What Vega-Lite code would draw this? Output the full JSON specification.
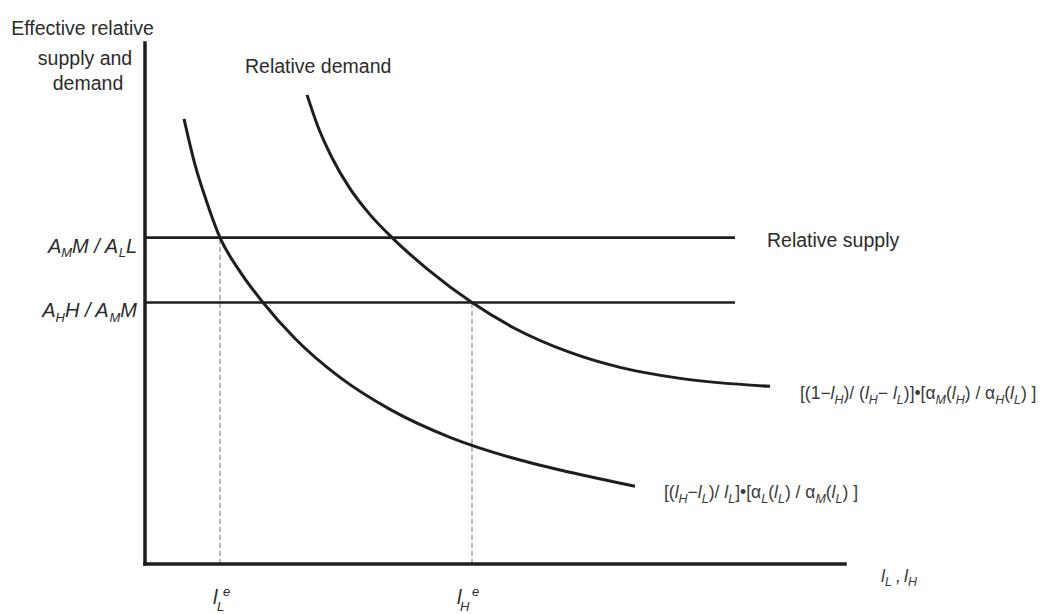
{
  "$schema": "https://vega.github.io/schema/vega-lite/v6.json",
  "width": 1040,
  "height": 614,
  "autosize": {"type": "fit", "contains": "padding"},
  "padding": 0,
  "background": "white",
  "config": {"view": {"stroke": null}},
  "datasets": {
    "rules": [
      {"part": "axis", "x": 0, "x2": 0, "y": 0, "y2": 52.2},
      {"part": "axis", "x": 0, "x2": 70, "y": 0, "y2": 0},
      {"part": "supply", "x": 0, "x2": 59, "y": 32.7, "y2": 32.7},
      {"part": "supply", "x": 0, "x2": 59, "y": 26.2, "y2": 26.2},
      {"part": "guide", "x": 7.5, "x2": 7.5, "y": 0, "y2": 32.7},
      {"part": "guide", "x": 32.7, "x2": 32.7, "y": 0, "y2": 26.2}
    ],
    "curves": [
      {"curve": "low", "x": 3.9, "y": 44.6},
      {"curve": "low", "x": 5.0, "y": 40.0},
      {"curve": "low", "x": 6.2, "y": 36.2},
      {"curve": "low", "x": 7.5, "y": 32.7},
      {"curve": "low", "x": 9.5, "y": 29.3},
      {"curve": "low", "x": 11.8, "y": 26.2},
      {"curve": "low", "x": 15.0, "y": 22.6},
      {"curve": "low", "x": 19.5, "y": 18.7},
      {"curve": "low", "x": 24.5, "y": 15.5},
      {"curve": "low", "x": 30.5, "y": 12.7},
      {"curve": "low", "x": 36.5, "y": 10.7},
      {"curve": "low", "x": 42.5, "y": 9.2},
      {"curve": "low", "x": 49.0, "y": 7.8},
      {"curve": "high", "x": 16.2, "y": 47.0},
      {"curve": "high", "x": 17.3, "y": 43.8},
      {"curve": "high", "x": 18.7, "y": 40.7},
      {"curve": "high", "x": 20.5, "y": 37.6},
      {"curve": "high", "x": 22.5, "y": 35.0},
      {"curve": "high", "x": 24.7, "y": 32.7},
      {"curve": "high", "x": 28.3, "y": 29.5},
      {"curve": "high", "x": 32.7, "y": 26.2},
      {"curve": "high", "x": 37.0, "y": 23.6},
      {"curve": "high", "x": 42.5, "y": 21.2},
      {"curve": "high", "x": 47.5, "y": 19.7},
      {"curve": "high", "x": 53.5, "y": 18.6},
      {"curve": "high", "x": 62.5, "y": 17.8}
    ],
    "labels": [
      {"role": "heading", "text": "Effective relative", "x": -6.25, "y": 53.0},
      {"role": "heading", "text": "supply and", "x": -6.0, "y": 50.0},
      {"role": "heading", "text": "demand", "x": -5.7, "y": 47.5},
      {"role": "note", "text": "Relative demand", "x": 10.0, "y": 49.2},
      {"role": "note", "text": "Relative supply", "x": 62.2, "y": 31.8},

      {"role": "sym", "text": "A", "x": -9.7, "y": 31.2},
      {"role": "symsub", "text": "M", "x": -8.37, "y": 30.75},
      {"role": "sym", "text": "M / A", "x": -7.29, "y": 31.2},
      {"role": "symsub", "text": "L", "x": -2.62, "y": 30.75},
      {"role": "sym", "text": "L", "x": -1.9, "y": 31.2},

      {"role": "sym", "text": "A", "x": -10.27, "y": 24.7},
      {"role": "symsub", "text": "H", "x": -8.94, "y": 24.25},
      {"role": "sym", "text": "H / A", "x": -8.0, "y": 24.7},
      {"role": "symsub", "text": "M", "x": -3.55, "y": 24.25},
      {"role": "sym", "text": "M", "x": -2.47, "y": 24.7},

      {"role": "sym", "text": "l", "x": 6.8, "y": -4.0},
      {"role": "symsub", "text": "L", "x": 7.2, "y": -4.7},
      {"role": "symsub", "text": "e", "x": 7.8, "y": -3.2},
      {"role": "sym", "text": "l", "x": 31.2, "y": -4.0},
      {"role": "symsub", "text": "H", "x": 31.5, "y": -4.7},
      {"role": "symsub", "text": "e", "x": 32.7, "y": -3.2},

      {"role": "exprvar", "text": "l", "x": 73.6, "y": -1.8},
      {"role": "exprsub", "text": "L", "x": 74.0, "y": -2.2},
      {"role": "exprvar", "text": ",", "x": 75.1, "y": -1.8},
      {"role": "exprvar", "text": "l", "x": 75.9, "y": -1.8},
      {"role": "exprsub", "text": "H", "x": 76.3, "y": -2.2},

      {"role": "expr", "text": "[(1−", "x": 65.5, "y": 16.5},
      {"role": "exprvar", "text": "l", "x": 68.56, "y": 16.5},
      {"role": "exprsub", "text": "H", "x": 68.95, "y": 16.0},
      {"role": "expr", "text": ")/ (", "x": 69.85, "y": 16.5},
      {"role": "exprvar", "text": "l", "x": 71.99, "y": 16.5},
      {"role": "exprsub", "text": "H", "x": 72.38, "y": 16.0},
      {"role": "expr", "text": "− ", "x": 73.28, "y": 16.5},
      {"role": "exprvar", "text": "l", "x": 74.79, "y": 16.5},
      {"role": "exprsub", "text": "L", "x": 75.18, "y": 16.0},
      {"role": "expr", "text": ")]•[α", "x": 75.88, "y": 16.5},
      {"role": "exprsub", "text": "M", "x": 79.06, "y": 16.0},
      {"role": "expr", "text": "(", "x": 80.10, "y": 16.5},
      {"role": "exprvar", "text": "l", "x": 80.68, "y": 16.5},
      {"role": "exprsub", "text": "H", "x": 81.07, "y": 16.0},
      {"role": "expr", "text": ") / α", "x": 81.97, "y": 16.5},
      {"role": "exprsub", "text": "H", "x": 85.02, "y": 16.0},
      {"role": "expr", "text": "(", "x": 85.92, "y": 16.5},
      {"role": "exprvar", "text": "l", "x": 86.50, "y": 16.5},
      {"role": "exprsub", "text": "L", "x": 86.89, "y": 16.0},
      {"role": "expr", "text": ") ]", "x": 87.59, "y": 16.5},

      {"role": "expr", "text": "[(", "x": 51.9, "y": 6.6},
      {"role": "exprvar", "text": "l", "x": 52.97, "y": 6.6},
      {"role": "exprsub", "text": "H", "x": 53.36, "y": 6.1},
      {"role": "expr", "text": "−", "x": 54.26, "y": 6.6},
      {"role": "exprvar", "text": "l", "x": 55.28, "y": 6.6},
      {"role": "exprsub", "text": "L", "x": 55.67, "y": 6.1},
      {"role": "expr", "text": ")/ ", "x": 56.37, "y": 6.6},
      {"role": "exprvar", "text": "l", "x": 57.93, "y": 6.6},
      {"role": "exprsub", "text": "L", "x": 58.32, "y": 6.1},
      {"role": "expr", "text": "]•[α", "x": 59.02, "y": 6.6},
      {"role": "exprsub", "text": "L", "x": 61.62, "y": 6.1},
      {"role": "expr", "text": "(", "x": 62.32, "y": 6.6},
      {"role": "exprvar", "text": "l", "x": 62.90, "y": 6.6},
      {"role": "exprsub", "text": "L", "x": 63.29, "y": 6.1},
      {"role": "expr", "text": ") / α", "x": 63.99, "y": 6.6},
      {"role": "exprsub", "text": "M", "x": 67.04, "y": 6.1},
      {"role": "expr", "text": "(", "x": 68.08, "y": 6.6},
      {"role": "exprvar", "text": "l", "x": 68.66, "y": 6.6},
      {"role": "exprsub", "text": "L", "x": 69.05, "y": 6.1},
      {"role": "expr", "text": ") ]", "x": 69.75, "y": 6.6}
    ]
  },
  "layer": [
    {
      "data": {"name": "rules"},
      "transform": [{"filter": "datum.part === 'guide'"}],
      "mark": {"type": "rule", "color": "#a8a8a8", "strokeWidth": 1.6, "strokeDash": [5, 3]},
      "encoding": {
        "x": {"field": "x", "type": "quantitative", "scale": {"domain": [-14.5, 89.5], "nice": false, "zero": false}, "axis": null},
        "x2": {"field": "x2"},
        "y": {"field": "y", "type": "quantitative", "scale": {"domain": [-4.9, 56.5], "nice": false, "zero": false}, "axis": null},
        "y2": {"field": "y2"}
      }
    },
    {
      "data": {"name": "rules"},
      "transform": [{"filter": "datum.part === 'supply'"}],
      "mark": {"type": "rule", "color": "#1e1e1e", "strokeWidth": 2.6},
      "encoding": {
        "x": {"field": "x", "type": "quantitative", "scale": {"domain": [-14.5, 89.5], "nice": false, "zero": false}, "axis": null},
        "x2": {"field": "x2"},
        "y": {"field": "y", "type": "quantitative", "scale": {"domain": [-4.9, 56.5], "nice": false, "zero": false}, "axis": null},
        "y2": {"field": "y2"}
      }
    },
    {
      "data": {"name": "rules"},
      "transform": [{"filter": "datum.part === 'axis'"}],
      "mark": {"type": "rule", "color": "#1e1e1e", "strokeWidth": 3.5, "strokeCap": "square"},
      "encoding": {
        "x": {"field": "x", "type": "quantitative", "scale": {"domain": [-14.5, 89.5], "nice": false, "zero": false}, "axis": null},
        "x2": {"field": "x2"},
        "y": {"field": "y", "type": "quantitative", "scale": {"domain": [-4.9, 56.5], "nice": false, "zero": false}, "axis": null},
        "y2": {"field": "y2"}
      }
    },
    {
      "data": {"name": "curves"},
      "mark": {"type": "line", "color": "#1e1e1e", "strokeWidth": 3, "interpolate": "monotone"},
      "encoding": {
        "x": {"field": "x", "type": "quantitative", "scale": {"domain": [-14.5, 89.5], "nice": false, "zero": false}, "axis": null},
        "y": {"field": "y", "type": "quantitative", "scale": {"domain": [-4.9, 56.5], "nice": false, "zero": false}, "axis": null},
        "detail": {"field": "curve"}
      }
    },
    {
      "data": {"name": "labels"},
      "transform": [{"filter": "datum.role === 'heading'"}],
      "mark": {"type": "text", "font": "Liberation Sans", "fontSize": 19.5, "align": "center", "baseline": "alphabetic", "color": "#2b2b2b"},
      "encoding": {
        "x": {"field": "x", "type": "quantitative"},
        "y": {"field": "y", "type": "quantitative"},
        "text": {"field": "text"}
      }
    },
    {
      "data": {"name": "labels"},
      "transform": [{"filter": "datum.role === 'note'"}],
      "mark": {"type": "text", "font": "Liberation Sans", "fontSize": 19.5, "align": "left", "baseline": "alphabetic", "color": "#2b2b2b"},
      "encoding": {
        "x": {"field": "x", "type": "quantitative"},
        "y": {"field": "y", "type": "quantitative"},
        "text": {"field": "text"}
      }
    },
    {
      "data": {"name": "labels"},
      "transform": [{"filter": "datum.role === 'sym'"}],
      "mark": {"type": "text", "font": "Liberation Sans", "fontSize": 20, "fontStyle": "italic", "align": "left", "baseline": "alphabetic", "color": "#2b2b2b"},
      "encoding": {
        "x": {"field": "x", "type": "quantitative"},
        "y": {"field": "y", "type": "quantitative"},
        "text": {"field": "text"}
      }
    },
    {
      "data": {"name": "labels"},
      "transform": [{"filter": "datum.role === 'symsub'"}],
      "mark": {"type": "text", "font": "Liberation Sans", "fontSize": 13, "fontStyle": "italic", "align": "left", "baseline": "alphabetic", "color": "#2b2b2b"},
      "encoding": {
        "x": {"field": "x", "type": "quantitative"},
        "y": {"field": "y", "type": "quantitative"},
        "text": {"field": "text"}
      }
    },
    {
      "data": {"name": "labels"},
      "transform": [{"filter": "datum.role === 'expr'"}],
      "mark": {"type": "text", "font": "Liberation Sans", "fontSize": 17.5, "align": "left", "baseline": "alphabetic", "color": "#3a3a3a"},
      "encoding": {
        "x": {"field": "x", "type": "quantitative"},
        "y": {"field": "y", "type": "quantitative"},
        "text": {"field": "text"}
      }
    },
    {
      "data": {"name": "labels"},
      "transform": [{"filter": "datum.role === 'exprvar'"}],
      "mark": {"type": "text", "font": "Liberation Sans", "fontSize": 17.5, "fontStyle": "italic", "align": "left", "baseline": "alphabetic", "color": "#3a3a3a"},
      "encoding": {
        "x": {"field": "x", "type": "quantitative"},
        "y": {"field": "y", "type": "quantitative"},
        "text": {"field": "text"}
      }
    },
    {
      "data": {"name": "labels"},
      "transform": [{"filter": "datum.role === 'exprsub'"}],
      "mark": {"type": "text", "font": "Liberation Sans", "fontSize": 12.5, "fontStyle": "italic", "align": "left", "baseline": "alphabetic", "color": "#3a3a3a"},
      "encoding": {
        "x": {"field": "x", "type": "quantitative"},
        "y": {"field": "y", "type": "quantitative"},
        "text": {"field": "text"}
      }
    }
  ]
}
